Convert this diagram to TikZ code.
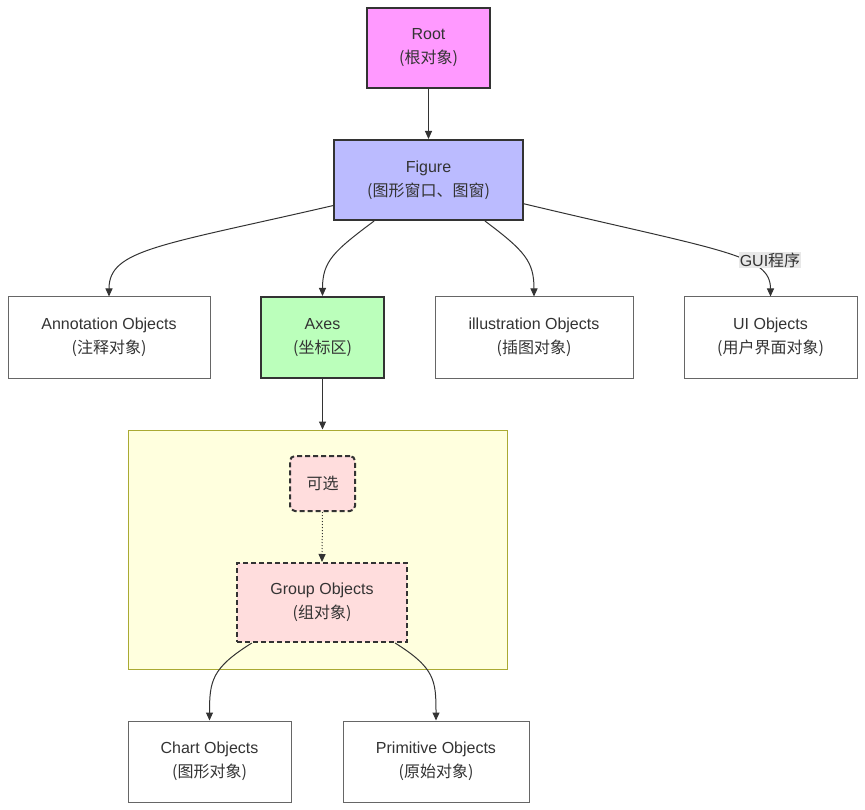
\documentclass[tikz,border=0pt]{standalone}
\usepackage{fontspec}
\setmainfont{Liberation Sans}
\newfontfamily\cjk{Noto Sans CJK SC}
\usetikzlibrary{arrows.meta,calc}
\definecolor{InkGray}{HTML}{333333}
\definecolor{EdgeGray}{HTML}{666666}
\definecolor{RootPink}{HTML}{FF99FF}
\definecolor{FigBlue}{HTML}{BBBBFF}
\definecolor{AxesGreen}{HTML}{BBFFBB}
\definecolor{OptPink}{HTML}{FFDDDD}
\definecolor{BoxYellow}{HTML}{FFFFDE}
\definecolor{BoxOlive}{HTML}{AAAA33}
\definecolor{LabelGray}{HTML}{E8E8E8}

\begin{document}
\begin{tikzpicture}[x=1pt,y=-1pt,
  font=\fontsize{16}{24}\selectfont, text=InkGray,
  plain/.style={draw=EdgeGray,line width=1pt,fill=white,align=center,inner sep=0pt},
  strong/.style={draw=InkGray,line width=2pt,align=center,inner sep=0pt},
  optbox/.style={strong,fill=OptPink,dash pattern=on 5pt off 3pt},
  edge/.style={InkGray,line width=1pt,-{Triangle[length=8pt,width=7pt]}}]

\useasboundingbox (0,0) rectangle (865,810);

\node[draw=BoxOlive,fill=BoxYellow,line width=1pt,minimum width=379pt,minimum height=239pt,inner sep=0pt] (cluster) at (317.5,549.5) {};

\node[strong,fill=RootPink,minimum width=123pt,minimum height=80pt] (root) at (428.5,48) {Root\\{\cjk (根对象)}};
\node[strong,fill=FigBlue,minimum width=189pt,minimum height=80pt] (figure) at (428.5,180) {Figure\\{\cjk (图形窗口、图窗)}};

\node[plain,minimum width=202pt,minimum height=81pt] (annot) at (109,337.5) {Annotation Objects\\{\cjk (注释对象)}};
\node[strong,fill=AxesGreen,minimum width=123pt,minimum height=81pt] (axes) at (322.5,337.5) {Axes\\{\cjk (坐标区)}};
\node[plain,minimum width=198pt,minimum height=81pt] (illus) at (534,337.5) {illustration Objects\\{\cjk (插图对象)}};
\node[plain,minimum width=173pt,minimum height=81pt] (ui) at (770.5,337.5) {UI Objects\\{\cjk (用户界面对象)}};

\node[optbox,rounded corners=5pt,minimum width=65pt,minimum height=55pt] (optional) at (322.5,483.5) {\cjk 可选};
\node[optbox,minimum width=170pt,minimum height=79pt] (group) at (322,602.5) {Group Objects\\{\cjk (组对象)}};

\node[plain,minimum width=163pt,minimum height=81pt] (chart) at (209.5,761.5) {Chart Objects\\{\cjk (图形对象)}};
\node[plain,minimum width=186pt,minimum height=81pt] (prim) at (436,761.5) {Primitive Objects\\{\cjk (原始对象)}};

\draw[edge] (root.south) -- (figure.north);

\draw[edge] (figure.195) .. controls +(-173,40) and +(0,-47) .. (annot.north);
\draw[edge] (figure.217) .. controls +(-40,30) and +(0,-35) .. (axes.north);
\draw[edge] (figure.324) .. controls +(40,30) and +(0,-35) .. (illus.north);
\draw[edge] (figure.346) .. controls +(197,47) and +(0,-42) .. (ui.north);
\node[fill=LabelGray,inner sep=1pt] (gui) at (770,260) {GUI{\cjk 程序}};

\draw[edge] (axes.south) -- (axes.south |- cluster.north);
\draw[edge,dotted] (optional.south) -- (group.north);

\draw[edge] (group.210) .. controls +(-40,25) and +(0,-40) .. (chart.north);
\draw[edge] (group.331) .. controls +(40,25) and +(0,-40) .. (prim.north);

\end{tikzpicture}
\end{document}
